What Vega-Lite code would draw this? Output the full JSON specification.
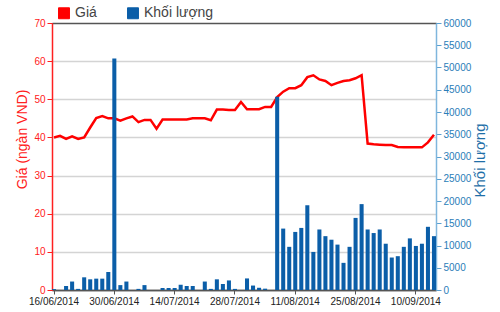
{
  "$schema": "https://vega.github.io/schema/vega-lite/v6.json",
  "width": 384,
  "height": 267,
  "autosize": {"type": "none"},
  "padding": {"left": 52, "top": 23, "right": 64, "bottom": 22},
  "config": {
    "font": "Liberation Sans",
    "view": {"stroke": "#555555", "strokeWidth": 1}
  },
  "data": {
    "values": [
      {"date": "16/06/2014", "price": 40.0, "volume": 200},
      {"date": "17/06/2014", "price": 40.4, "volume": 0},
      {"date": "18/06/2014", "price": 39.6, "volume": 900},
      {"date": "19/06/2014", "price": 40.3, "volume": 1900},
      {"date": "20/06/2014", "price": 39.6, "volume": 250},
      {"date": "23/06/2014", "price": 40.0, "volume": 2850},
      {"date": "24/06/2014", "price": 42.6, "volume": 2400},
      {"date": "25/06/2014", "price": 45.1, "volume": 2550},
      {"date": "26/06/2014", "price": 45.6, "volume": 2550},
      {"date": "27/06/2014", "price": 45.0, "volume": 4050},
      {"date": "30/06/2014", "price": 45.0, "volume": 52000},
      {"date": "01/07/2014", "price": 44.4, "volume": 1100},
      {"date": "02/07/2014", "price": 45.0, "volume": 1900},
      {"date": "03/07/2014", "price": 45.5, "volume": 0},
      {"date": "04/07/2014", "price": 44.0, "volume": 250},
      {"date": "07/07/2014", "price": 44.6, "volume": 1100},
      {"date": "08/07/2014", "price": 44.6, "volume": 0},
      {"date": "09/07/2014", "price": 42.3, "volume": 0},
      {"date": "10/07/2014", "price": 44.7, "volume": 450},
      {"date": "11/07/2014", "price": 44.7, "volume": 450},
      {"date": "14/07/2014", "price": 44.7, "volume": 450},
      {"date": "15/07/2014", "price": 44.7, "volume": 1200},
      {"date": "16/07/2014", "price": 44.7, "volume": 900},
      {"date": "17/07/2014", "price": 45.0, "volume": 900},
      {"date": "18/07/2014", "price": 45.0, "volume": 0},
      {"date": "21/07/2014", "price": 45.0, "volume": 1900},
      {"date": "22/07/2014", "price": 44.5, "volume": 250},
      {"date": "23/07/2014", "price": 47.3, "volume": 2400},
      {"date": "24/07/2014", "price": 47.3, "volume": 1350},
      {"date": "25/07/2014", "price": 47.2, "volume": 2150},
      {"date": "28/07/2014", "price": 47.2, "volume": 250},
      {"date": "29/07/2014", "price": 49.3, "volume": 0},
      {"date": "30/07/2014", "price": 47.4, "volume": 2600},
      {"date": "31/07/2014", "price": 47.4, "volume": 1000},
      {"date": "01/08/2014", "price": 47.4, "volume": 500},
      {"date": "04/08/2014", "price": 48.0, "volume": 300},
      {"date": "05/08/2014", "price": 48.0, "volume": 0},
      {"date": "06/08/2014", "price": 50.6, "volume": 43400},
      {"date": "07/08/2014", "price": 52.0, "volume": 13800},
      {"date": "08/08/2014", "price": 52.9, "volume": 9700},
      {"date": "11/08/2014", "price": 52.9, "volume": 13050},
      {"date": "12/08/2014", "price": 53.7, "volume": 13950},
      {"date": "13/08/2014", "price": 55.8, "volume": 19050},
      {"date": "14/08/2014", "price": 56.3, "volume": 8550},
      {"date": "15/08/2014", "price": 55.2, "volume": 13600},
      {"date": "18/08/2014", "price": 54.8, "volume": 12100},
      {"date": "19/08/2014", "price": 53.7, "volume": 11300},
      {"date": "20/08/2014", "price": 54.3, "volume": 10200},
      {"date": "21/08/2014", "price": 54.8, "volume": 6100},
      {"date": "22/08/2014", "price": 55.0, "volume": 9700},
      {"date": "25/08/2014", "price": 55.5, "volume": 16200},
      {"date": "26/08/2014", "price": 56.3, "volume": 19300},
      {"date": "27/08/2014", "price": 38.4, "volume": 13600},
      {"date": "28/08/2014", "price": 38.2, "volume": 12800},
      {"date": "29/08/2014", "price": 38.1, "volume": 13600},
      {"date": "03/09/2014", "price": 38.0, "volume": 10400},
      {"date": "04/09/2014", "price": 38.0, "volume": 7300},
      {"date": "05/09/2014", "price": 37.5, "volume": 7600},
      {"date": "08/09/2014", "price": 37.4, "volume": 9700},
      {"date": "09/09/2014", "price": 37.4, "volume": 11600},
      {"date": "10/09/2014", "price": 37.4, "volume": 9900},
      {"date": "11/09/2014", "price": 37.4, "volume": 10400},
      {"date": "12/09/2014", "price": 38.7, "volume": 14200},
      {"date": "15/09/2014", "price": 40.7, "volume": 12100}
    ]
  },
  "encoding": {
    "x": {
      "field": "date",
      "type": "ordinal",
      "sort": null,
      "scale": {"paddingInner": 0.33, "paddingOuter": 0, "align": 0.5},
      "axis": {
        "title": null,
        "values": ["16/06/2014", "30/06/2014", "14/07/2014", "28/07/2014", "11/08/2014", "25/08/2014", "10/09/2014"],
        "labelAngle": 0,
        "labelFontSize": 10,
        "labelColor": "#222222",
        "labelPadding": 2,
        "labelOverlap": false,
        "tickColor": "#555555",
        "tickSize": 4,
        "domainColor": "#555555",
        "domainWidth": 1.5,
        "grid": false
      }
    }
  },
  "layer": [
    {
      "mark": {"type": "line", "strokeWidth": 2.5, "interpolate": "linear"},
      "encoding": {
        "y": {
          "field": "price",
          "type": "quantitative",
          "scale": {"domain": [0, 70], "nice": false, "zero": true},
          "axis": {
            "orient": "left",
            "title": "Giá (ngàn VND)",
            "titleColor": "#ff2020",
            "titleFontSize": 14,
            "titleFontWeight": "normal",
            "titleAngle": 270,
            "titleAlign": "center",
            "titleBaseline": "middle",
            "titleX": -30,
            "titleY": 116,
            "values": [0, 10, 20, 30, 40, 50, 60, 70],
            "labelColor": "#ff2020",
            "labelFontSize": 10,
            "labelPadding": 2,
            "tickColor": "#ff2020",
            "tickSize": 5,
            "domainColor": "#ff2020",
            "domainWidth": 1.5,
            "grid": true,
            "gridColor": {"condition": {"test": "datum.value === 70 || datum.value === 0", "value": "#555555"}, "value": "#d4d4d4"},
            "gridWidth": 1.5
          }
        },
        "color": {
          "datum": "Giá",
          "type": "nominal",
          "scale": {"domain": ["Giá", "Khối lượng"], "range": ["#ff0000", "#0b5ea8"]},
          "legend": {
            "orient": "none",
            "legendX": 5,
            "legendY": -17,
            "direction": "horizontal",
            "title": null,
            "symbolType": "square",
            "symbolSize": 120,
            "labelFontSize": 14,
            "labelColor": "#444444",
            "labelOffset": 4,
            "columnPadding": 28,
            "encode": {
              "symbols": {
                "update": {
                  "fill": {"scale": "color", "field": "value"},
                  "stroke": {"value": "#333333"},
                  "strokeWidth": {"value": 1},
                  "opacity": {"value": 1}
                }
              }
            }
          }
        }
      }
    },
    {
      "mark": {"type": "bar"},
      "encoding": {
        "y": {
          "field": "volume",
          "type": "quantitative",
          "scale": {"domain": [0, 60000], "nice": false},
          "axis": {
            "orient": "right",
            "title": "Khối lượng",
            "titleColor": "#1f6fa8",
            "titleFontSize": 15,
            "titleFontWeight": "normal",
            "titleAngle": 270,
            "titleAlign": "center",
            "titleBaseline": "middle",
            "titleX": 43,
            "titleY": 137,
            "values": [0, 5000, 10000, 15000, 20000, 25000, 30000, 35000, 40000, 45000, 50000, 55000, 60000],
            "format": "d",
            "labelColor": "#2a7db8",
            "labelFontSize": 10,
            "labelPadding": 2,
            "tickColor": "#5a9fd0",
            "tickSize": 5,
            "domainColor": "#7fb6dd",
            "domainWidth": 1.5,
            "grid": false
          }
        },
        "color": {"datum": "Khối lượng", "type": "nominal"}
      }
    }
  ],
  "resolve": {"scale": {"y": "independent"}}
}
